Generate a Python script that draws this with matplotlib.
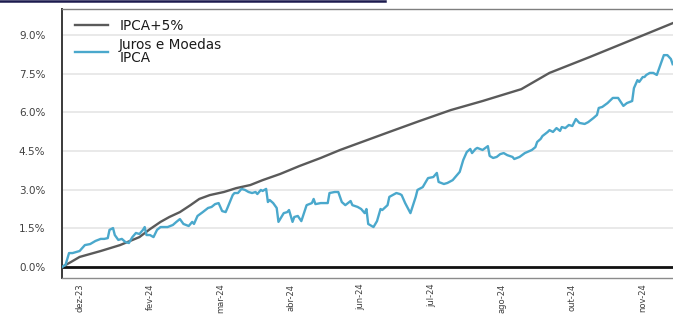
import matplotlib
matplotlib.use("Agg")
import matplotlib.pyplot as plt
import pandas as pd
from matplotlib.lines import Line2D

# ---------------- data ----------------
start_date = "2023-12-19"

bench_label = "IPCA+5%"
bench_days = [0, 5, 10, 22, 33, 44, 50, 56, 61, 67, 73, 78, 84, 92, 99, 107, 114,
              124, 135, 147, 158, 172, 186, 203, 221, 239, 261, 277, 300, 323, 347]
bench_vals = [0.00, 0.19, 0.39, 0.62, 0.85, 1.16, 1.47, 1.75, 1.94, 2.13, 2.40, 2.64,
              2.79, 2.91, 3.06, 3.18, 3.37, 3.61, 3.92, 4.23, 4.54, 4.89, 5.24, 5.66,
              6.09, 6.44, 6.90, 7.53, 8.15, 8.79, 9.46]

fund_label = "Juros e Moedas\nIPCA"
fund_days = [0, 2, 4, 6, 10, 13, 16, 19, 22, 24, 26, 27, 29, 30, 32, 34, 36, 38, 40,
             42, 44, 46, 47, 48, 50, 52, 54, 56, 60, 63, 65, 67, 69, 72, 74, 75, 77,
             80, 83, 85, 87, 89, 91, 93, 94, 97, 98, 100, 102, 104, 106, 108, 110,
             111, 113, 114, 116, 117, 118, 120, 122, 123, 126, 128, 129, 131, 132,
             134, 136, 139, 142, 143, 144, 147, 151, 152, 155, 157, 159, 161, 164,
             165, 168, 170, 172, 173, 174, 176, 177, 179, 181, 182, 185, 186, 190,
             192, 193, 195, 198, 201, 202, 205, 208, 211, 213, 214, 217, 219, 222,
             223, 226, 228, 230, 232, 233, 235, 236, 239, 242, 243, 245, 247, 249,
             251, 253, 256, 257, 260, 263, 267, 269, 270, 272, 273, 276, 277, 279,
             281, 283, 284, 286, 288, 290, 292, 294, 297, 299, 302, 304, 305, 307,
             310, 313, 316, 319, 321, 324, 325, 327, 328, 330, 331, 332, 334, 336,
             338, 340, 342, 344, 346, 347]
fund_vals = [0.00, 0.08, 0.54, 0.54, 0.62, 0.85, 0.89, 1.01, 1.09, 1.09, 1.12, 1.44,
             1.51, 1.24, 1.05, 1.09, 0.97, 0.93, 1.16, 1.32, 1.28, 1.44, 1.55, 1.24,
             1.24, 1.16, 1.44, 1.55, 1.55, 1.63, 1.75, 1.86, 1.67, 1.59, 1.75, 1.67,
             1.98, 2.13, 2.29, 2.33, 2.44, 2.48, 2.17, 2.13, 2.29, 2.79, 2.87, 2.87,
             3.03, 2.99, 2.91, 2.87, 2.91, 2.83, 2.99, 2.95, 3.03, 2.52, 2.60, 2.48,
             2.29, 1.75, 2.09, 2.13, 2.21, 1.75, 1.94, 1.98, 1.78, 2.40, 2.48, 2.64,
             2.44, 2.48, 2.48, 2.87, 2.91, 2.91, 2.52, 2.40, 2.56, 2.40, 2.33, 2.25,
             2.09, 2.25, 1.67, 1.59, 1.55, 1.78, 2.25, 2.21, 2.40, 2.72, 2.87, 2.83,
             2.79, 2.48, 2.09, 2.72, 2.99, 3.10, 3.45, 3.49, 3.65, 3.30, 3.22, 3.26,
             3.37, 3.45, 3.69, 4.15, 4.46, 4.58, 4.42, 4.58, 4.62, 4.54, 4.69, 4.31,
             4.23, 4.27, 4.38, 4.42, 4.34, 4.27, 4.19, 4.27, 4.42, 4.54, 4.65, 4.85,
             4.97, 5.08, 5.24, 5.31, 5.24, 5.39, 5.28, 5.43, 5.39, 5.51, 5.47, 5.74,
             5.59, 5.55, 5.62, 5.78, 5.90, 6.17, 6.21, 6.36, 6.56, 6.56, 6.25, 6.36,
             6.44, 6.94, 7.25, 7.18, 7.37, 7.37, 7.45, 7.53, 7.53, 7.45, 7.84, 8.22,
             8.22, 8.07, 7.87]

tick_dates = ["2023-12-29", "2024-02-07", "2024-03-18", "2024-04-27", "2024-06-06",
              "2024-07-16", "2024-08-25", "2024-10-04", "2024-11-13"]
tick_labels = ["dez-23", "fev-24", "mar-24", "abr-24", "jun-24",
               "jul-24", "ago-24", "out-24", "nov-24"]
y_ticks = [0.0, 1.5, 3.0, 4.5, 6.0, 7.5, 9.0]

# ---------------- plot ----------------
plt.rcParams["font.family"] = ["DejaVu Sans"]
fig = plt.figure(figsize=(6.73, 3.15), dpi=100)
ax = fig.add_axes([62 / 673, 1 - 278 / 315, 1 - 62 / 673, (278 - 9) / 315])

t0 = pd.Timestamp(start_date)
bx = t0 + pd.to_timedelta(bench_days, unit="D")
fx = t0 + pd.to_timedelta(fund_days, unit="D")

for yv in y_ticks:
    if yv != 0:
        ax.axhline(yv, color="#e9e9e9", lw=1.4, zorder=0)
ax.axhline(0, color="#111111", lw=2.0, zorder=1)

ax.plot(bx, bench_vals, color="#5a5a5a", lw=1.7, label=bench_label, zorder=3)
ax.plot(fx, fund_vals, color="#4aa8cc", lw=1.7, label=fund_label, zorder=4)

ax.set_xlim(t0, t0 + pd.Timedelta(days=347.2))
ax.set_ylim(-0.427, 10.01)

ax.set_yticks(y_ticks)
ax.set_yticklabels([f"{v:.1f}%" for v in y_ticks], fontsize=7.5, color="#404040")
ax.set_xticks(pd.to_datetime(tick_dates))
ax.set_xticklabels(tick_labels, rotation=90, fontsize=6, color="#404040")
ax.tick_params(axis="y", length=0, pad=12)
ax.tick_params(axis="x", length=0, pad=4)

ax.spines["right"].set_visible(False)
ax.spines["top"].set_color("#7f7f7f")
ax.spines["top"].set_linewidth(1.0)
ax.spines["left"].set_color("#3a3a3a")
ax.spines["left"].set_linewidth(1.4)
ax.spines["bottom"].set_color("#8c8c8c")
ax.spines["bottom"].set_linewidth(1.0)

leg = ax.legend(loc="upper left", bbox_to_anchor=(0.01, 0.989), frameon=False,
                fontsize=9.8, handlelength=2.4, handletextpad=0.85,
                labelspacing=0.38, borderaxespad=0.0, borderpad=0.5)
for t in leg.get_texts():
    t.set_color("#1a1a1a")
    t.set_linespacing(0.95)

# dark navy rule at the very top of the image
fig.add_artist(Line2D([0, 385 / 673], [1 - 1 / 315, 1 - 1 / 315],
                      transform=fig.transFigure, color="#1c1a4e", lw=1.8))

fig.savefig("out.png", dpi=100)
